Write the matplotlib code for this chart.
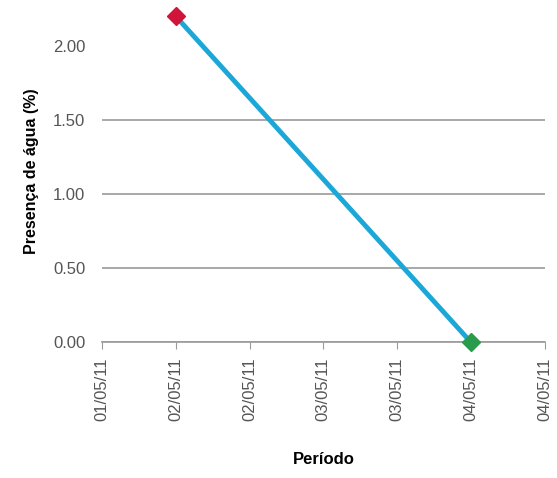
import datetime as dt
import matplotlib
matplotlib.use('Agg')
import matplotlib.pyplot as plt
import matplotlib.dates as mdates

plt.rcParams['font.family'] = ['Liberation Sans', 'DejaVu Sans']

# dados
datas = [dt.datetime(2011, 5, 2, 6), dt.datetime(2011, 5, 4, 6)]
presenca = [2.20, 0.00]
marcas = [dt.datetime(2011, 5, 1, 18) + dt.timedelta(hours=12 * i) for i in range(7)]
yticks = [0.0, 0.5, 1.0, 1.5, 2.0]

fig = plt.figure(figsize=(5.57, 4.78), dpi=100)
ax = fig.add_axes([0.183, 0.284, 0.795, 0.716])

ax.plot(datas, presenca, color='#1ba7d8', lw=3.5, solid_capstyle='round', clip_on=False, zorder=3)
ax.plot(datas[0], presenca[0], 'D', color='#d0143a', ms=9, clip_on=False, zorder=4)
ax.plot(datas[-1], presenca[-1], 'D', color='#2a9a4c', ms=9, clip_on=False, zorder=4)

ax.set_xlim(marcas[0], marcas[-1])
ax.set_ylim(0, 2.31)
ax.set_xticks(marcas)
ax.xaxis.set_major_formatter(mdates.DateFormatter('%d/%m/%y'))
ax.set_yticks(yticks)
ax.set_yticklabels([f'{v:.2f}' for v in yticks])

ax.grid(axis='y', color='#9a9a9a', lw=1.2)
ax.get_ygridlines()[-1].set_visible(False)
ax.set_axisbelow(True)

for s in ['top', 'right', 'left']:
    ax.spines[s].set_visible(False)
ax.spines['bottom'].set_color('#9a9a9a')
ax.spines['bottom'].set_linewidth(1.2)

ax.tick_params(axis='x', rotation=90, colors='#9a9a9a', labelcolor='#555555', labelsize=12, length=5, pad=6)
ax.tick_params(axis='y', length=0, labelcolor='#555555', labelsize=12, pad=12)

ax.set_ylabel('Presença de água (%)', fontsize=11.5, fontweight='bold', labelpad=10)
ax.set_xlabel('Período', fontsize=12, fontweight='bold', labelpad=22)

fig.savefig('out.png', dpi=100)
